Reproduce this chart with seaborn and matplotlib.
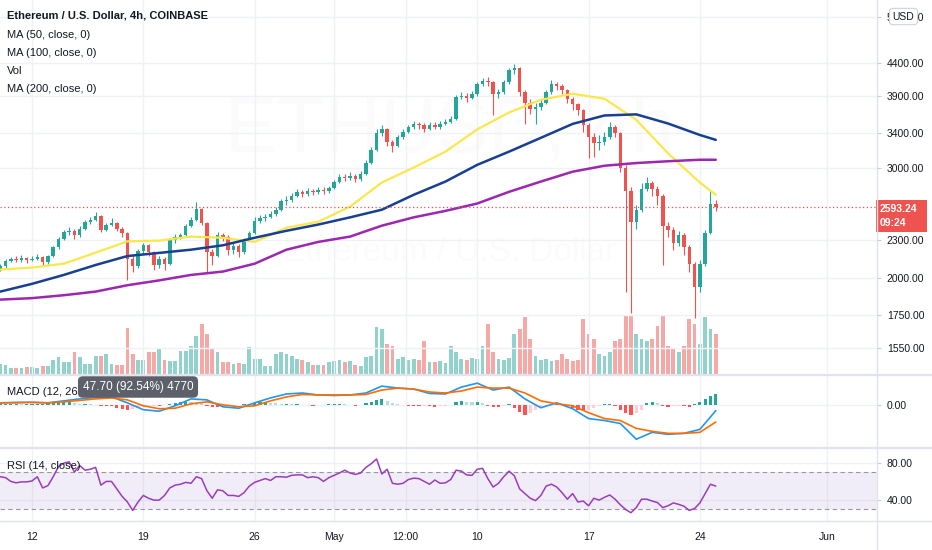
import numpy as np
import matplotlib
matplotlib.use("Agg")
import matplotlib.pyplot as plt
import seaborn as sns
from matplotlib.ticker import NullLocator
from matplotlib.patches import Rectangle
from matplotlib.lines import Line2D

sns.set_style("white")
plt.rcParams['font.family'] = ['Liberation Sans', 'DejaVu Sans']

# ---------------- data (8h candles starting Apr 10) ----------------
first_open = 2070
closes = [2090, 2130, 2150, 2140, 2155, 2140, 2150, 2160, 2120, 2170,
          2240, 2310, 2370, 2380, 2340, 2400, 2460, 2480, 2510, 2390,
          2430, 2450, 2400, 2360, 2150, 2090, 2210, 2260, 2200, 2100,
          2150, 2110, 2300, 2330, 2340, 2420, 2480, 2580, 2450, 2200,
          2170, 2340, 2330, 2220, 2250, 2200, 2300, 2360, 2470, 2490,
          2500, 2530, 2570, 2650, 2660, 2700, 2740, 2720, 2750, 2740,
          2760, 2750, 2780, 2850, 2900, 2890, 2910, 2880, 2930, 3050,
          3200, 3400, 3450, 3300, 3250, 3350, 3420, 3480, 3520, 3500,
          3460, 3500, 3480, 3520, 3550, 3580, 3880, 3900, 3870, 3920,
          4080, 4120, 4100, 3920, 3950, 4100, 4280, 4320, 3950, 3800,
          3720, 3750, 3800, 3950, 4080, 4050, 3980, 3850, 3780, 3700,
          3500, 3350, 3280, 3300, 3350, 3480, 3400, 3000, 2750, 2460,
          2570, 2770, 2840, 2770, 2700, 2425, 2390, 2275, 2340, 2245,
          2110, 1940, 2110, 2365, 2630, 2593.24]
highs = [2110, 2145, 2165, 2170, 2175, 2165, 2170, 2185, 2170, 2180,
         2255, 2330, 2390, 2410, 2395, 2420, 2475, 2500, 2545, 2520,
         2450, 2490, 2460, 2410, 2370, 2180, 2230, 2280, 2270, 2210,
         2170, 2160, 2320, 2350, 2360, 2440, 2500, 2640, 2590, 2460,
         2230, 2370, 2360, 2340, 2280, 2265, 2320, 2380, 2500, 2520,
         2530, 2560, 2600, 2670, 2700, 2730, 2770, 2760, 2780, 2770,
         2790, 2790, 2800, 2870, 2930, 2930, 2950, 2930, 2960, 3080,
         3230, 3460, 3500, 3470, 3320, 3380, 3450, 3510, 3560, 3550,
         3530, 3540, 3540, 3560, 3590, 3620, 3910, 3960, 3940, 3970,
         4110, 4160, 4180, 4120, 4000, 4130, 4320, 4380, 4340, 3980,
         3850, 3800, 3850, 3990, 4130, 4110, 4070, 4000, 3880, 3800,
         3720, 3530, 3400, 3380, 3420, 3540, 3500, 3420, 3030, 2790,
         2620, 2830, 2900, 2860, 2800, 2720, 2460, 2410, 2380, 2360,
         2260, 2120, 2140, 2390, 2750, 2660]
lows = [2055, 2080, 2120, 2125, 2120, 2115, 2130, 2140, 2090, 2110,
        2160, 2230, 2300, 2340, 2310, 2330, 2390, 2440, 2470, 2370,
        2380, 2420, 2380, 2330, 1990, 2050, 2080, 2190, 2170, 2060,
        2080, 2060, 2100, 2280, 2310, 2330, 2410, 2470, 2430, 2050,
        2100, 2160, 2290, 2180, 2190, 2160, 2190, 2290, 2350, 2450,
        2470, 2490, 2510, 2560, 2620, 2640, 2690, 2690, 2700, 2710,
        2720, 2720, 2730, 2770, 2840, 2860, 2870, 2850, 2860, 2920,
        3040, 3190, 3370, 3250, 3180, 3230, 3330, 3400, 3460, 3460,
        3420, 3440, 3450, 3460, 3500, 3530, 3570, 3850, 3820, 3850,
        3900, 4050, 4050, 3640, 3870, 3930, 4080, 4230, 3900, 3520,
        3650, 3520, 3700, 3780, 3930, 3990, 3930, 3800, 3700, 3640,
        3420, 3110, 3120, 3200, 3260, 3330, 3350, 2950, 1900, 1760,
        2400, 2550, 2750, 2700, 2620, 2100, 2330, 2220, 2250, 2180,
        2050, 1730, 1900, 2090, 2350, 2560]
volumes = [10, 9, 6, 6, 6, 7, 7, 6, 8, 8,
           14, 17, 12, 12, 22, 17, 10, 10, 18, 18,
           20, 10, 9, 9, 46, 20, 14, 14, 22, 22,
           26, 14, 13, 13, 23, 23, 28, 38, 50, 40,
           25, 22, 12, 12, 10, 11, 10, 27, 15, 15,
           8, 8, 20, 22, 20, 18, 15, 14, 12, 9,
           9, 9, 12, 13, 14, 12, 13, 9, 8, 17,
           18, 47, 45, 30, 28, 15, 17, 14, 15, 14,
           33, 12, 12, 13, 11, 28, 22, 15, 14, 16,
           15, 28, 50, 22, 15, 14, 16, 40, 45, 57,
           35, 18, 14, 15, 13, 14, 20, 15, 13, 14,
           55, 40, 35, 20, 18, 22, 33, 35, 58, 58,
           40, 35, 33, 35, 48, 58, 28, 25, 22, 28,
           55, 50, 30, 57, 45, 40]

ma_days = [0, 2, 4, 6, 8, 10, 12, 14, 16, 18, 20, 22, 24, 26, 28, 30, 32, 34, 36, 38, 40, 42, 44, 45]
ma50 = [2065, 2080, 2110, 2197, 2290, 2296, 2330, 2320, 2285, 2407, 2460, 2600,
        2840, 3000, 3180, 3450, 3670, 3845, 3930, 3860, 3573, 3160, 2840, 2715]
ma100 = [1905, 1960, 2025, 2100, 2170, 2195, 2221, 2257, 2320, 2380, 2435, 2500,
         2571, 2715, 2850, 3030, 3180, 3345, 3520, 3630, 3645, 3525, 3380, 3320]
ma200 = [1850, 1860, 1880, 1905, 1950, 1985, 2025, 2050, 2110, 2221, 2285, 2330,
         2425, 2500, 2560, 2630, 2745, 2850, 2955, 3020, 3050, 3070, 3087, 3087]

macd_days = list(range(46))
macd_line = [2, 2.5, 2.5, 2, 4, 6, 7.5, 8, 2, -5,
             -6.5, -1, 6, 5, -2, -3.5, 2, 7, 11, 12,
             10, 9.5, 10, 12, 19, 17, 16, 11.5, 11, 18,
             22, 15, 18, 6, -3, 2, -4, -14, -16, -19,
             -35, -28, -30, -29, -25, -6]
signal_line = [2, 2, 2.5, 2, 3, 4.5, 6, 7, 5, -1,
               -4, -3.5, 1, 3, 0, -2, -1, 4, 8, 10.5,
               10, 10, 10, 10.5, 15, 17, 16, 13, 12, 14,
               18, 17, 17, 12, 4, 1, -1, -8, -14, -16,
               -24, -27, -29, -29, -28, -17.5]
macd_hist = [1, 1, 1, 1, 0.5, 0.5, 1, 1, 1, 1.5,
             2, 3, 3, 3, 2, 1, 1, 0.5, -0.5, -1,
             -1, -1, -3, -4, -5, -4, -3, -2, -1.5, -1,
             -1, -0.5, 1, 2, 3, 3, 2.5, 2, 1.5, -1,
             -2, -2.5, -2, -1.5, -1, -0.5, 0.5, 1, 2, 2.5,
             2.5, 2, 1.5, 1, 1, 0.5, 0.5, -0.5, -0.5, -1,
             -0.5, -0.5, 0.5, 0.5, 1, 0.5, -0.5, -1, -0.5, 2,
             3, 5, 6, 4, 2, 0.5, -0.5, -1, -1, -1.5,
             -1, -1.5, -2, -1.5, -1, -0.5, 3, 4, 3, 2.5,
             3, 2, -1, -2, -2, -1, 0.5, -3, -7, -10,
             -8, -5, -2, -1, 1, 1, 0.5, -0.5, -3, -5,
             -6, -5, -3, -1, 0.5, 1, -1, -5, -8, -10,
             -8, -5, 2, 3, 2, -1, -2, -1.5, -1, -1,
             -2, 1, 3, 6, 9, 11]
rsi = [65, 64, 60, 58.5, 59.5, 59.5, 60.5, 65, 53, 55.5,
       65, 76, 79.5, 81, 70, 77, 72, 73, 75, 56,
       60, 60, 52, 44, 38, 29, 38, 45, 42, 40,
       40, 45, 53, 56, 57, 59, 58, 65, 63, 50,
       42, 51, 50, 45, 45, 44, 48, 55, 59, 61,
       63, 61, 65, 65, 64.5, 66.5, 67, 67, 64, 65,
       64, 60, 64, 66.5, 69, 72, 69, 67.5, 69, 75,
       79, 84, 68, 73, 58, 57, 58, 62, 63.5, 63,
       60, 57, 61.5, 58, 58.5, 62, 72, 71, 67, 66.5,
       73, 74, 63, 54, 58, 65, 71, 66, 52, 47,
       42, 39.5, 45, 55, 57, 54, 48, 41, 47, 38,
       39, 34, 42, 40, 43, 45.5, 41, 35, 30, 26.5,
       32, 41, 41, 39, 37.4, 32, 34, 37, 35.5, 33.5,
       29, 31, 37, 47, 57, 55]

price_ticks = [1550, 1750, 2000, 2300, 3000, 3400, 3900, 4400, 5200]
date_ticks = [2, 9, 16, 21, 25.5, 30, 37, 44, 52]
date_labels = ['12', '19', '26', 'May', '12:00', '10', '17', '24', 'Jun']
last_price = 2593.24

# ---------------- styling ----------------
UP, DOWN = '#26a69a', '#ef5350'
GRID = '#eff1f5'
TXT = '#131722'
W, H = 932, 550

def fx(p):
    return p / W

def fy(p):
    return 1 - p / H

fig = plt.figure(figsize=(9.32, 5.5), dpi=100)
ax = fig.add_axes([0, fy(374), fx(877), 374 / H])
axm = fig.add_axes([0, fy(447.5), fx(877), 72.5 / H], sharex=ax)
axr = fig.add_axes([0, fy(520.7), fx(877), 72.2 / H], sharex=ax)

n = len(closes)
t = np.arange(n) / 3.0
c = np.array(closes, float)
o = np.r_[first_open, c[:-1]]
hi = np.array(highs, float)
lo = np.array(lows, float)
up = c >= o
cols = np.where(up, UP, DOWN)

# volume on a twin axis behind the price
axv = ax.twinx()
axv.set_ylim(0, 374)
axv.bar(t, volumes, width=0.24, color=[(0.149, 0.651, 0.604, 0.5) if u else (0.937, 0.325, 0.314, 0.5) for u in up],
        linewidth=0)
axv.yaxis.set_visible(False)
for s in axv.spines.values():
    s.set_visible(False)
ax.set_zorder(2)
axv.set_zorder(1)
ax.patch.set_visible(False)

ax.set_yscale('log')
ax.set_ylim(1409, 5540)
ax.set_xlim(-0.013, 55.14)

# watermark
ax.text(fx(450), fy(132), 'ETHUSD, 4h', transform=fig.transFigure, ha='center', va='center',
        fontsize=56, color='#000000', alpha=0.014, zorder=0)
ax.text(fx(450), fy(252), 'Ethereum / U.S. Dollar', transform=fig.transFigure, ha='center', va='center',
        fontsize=24, color='#000000', alpha=0.014, zorder=0)

# candles
ax.vlines(t, lo, hi, colors=cols, linewidth=0.8, zorder=2)
body_lo = np.minimum(o, c)
body_h = np.maximum(np.abs(c - o), body_lo * 0.003)
ax.bar(t, body_h, bottom=body_lo, width=0.22, color=cols, linewidth=0, zorder=2)

# moving averages
sns.lineplot(x=ma_days, y=ma50, ax=ax, color='#fbe74a', linewidth=1.6, zorder=3)
sns.lineplot(x=ma_days, y=ma100, ax=ax, color='#173f92', linewidth=1.8, zorder=3)
sns.lineplot(x=ma_days, y=ma200, ax=ax, color='#9c27b0', linewidth=1.8, zorder=3)

ax.axhline(last_price, color=DOWN, linestyle=(0, (1, 2)), linewidth=0.9, zorder=4)

ax.set_yticks(price_ticks)
ax.set_yticklabels([f'{v:.2f}' for v in price_ticks])
ax.yaxis.set_minor_locator(NullLocator())
ax.set_xlabel('')
ax.set_ylabel('')

# MACD
hcols = []
for i, v in enumerate(macd_hist):
    prev = macd_hist[i - 1] if i > 0 else v
    if v >= 0:
        hcols.append('#26a69a' if v >= prev else '#b2dfdb')
    else:
        hcols.append('#ff5252' if v <= prev else '#ffcdd2')
axm.bar(t, macd_hist, width=0.2, color=hcols, linewidth=0, zorder=2)
sns.lineplot(x=macd_days, y=macd_line, ax=axm, color='#2196f3', linewidth=1.2, zorder=3)
sns.lineplot(x=macd_days, y=signal_line, ax=axm, color='#ff6d00', linewidth=1.2, zorder=3)
axm.set_ylim(-43.4, 30.3)
axm.set_yticks([0])
axm.set_yticklabels(['0.00'])
axm.set_xlabel('')
axm.set_ylabel('')

# RSI
axr.axhspan(30, 70, color='#7e57c2', alpha=0.1, linewidth=0, zorder=1)
axr.axhline(70, color='#9598a1', linestyle=(0, (4, 3)), linewidth=0.8, zorder=2)
axr.axhline(30, color='#9598a1', linestyle=(0, (4, 3)), linewidth=0.8, zorder=2)
sns.lineplot(x=t, y=rsi, ax=axr, color='#9c3cba', linewidth=1.1, zorder=3)
axr.set_ylim(18, 95.2)
axr.set_yticks([40, 80])
axr.set_yticklabels(['40.00', '80.00'])
axr.set_xlabel('')
axr.set_ylabel('')

for a in (ax, axm, axr):
    a.set_xticks(date_ticks)
    a.grid(True, color=GRID, linewidth=1)
    a.set_axisbelow(True)
    for s in a.spines.values():
        s.set_visible(False)
    a.yaxis.tick_right()
    a.tick_params(axis='y', which='both', right=True, left=False, labelright=True, labelleft=False,
                  length=3, width=0.8, color='#c9ccd4', labelsize=7.5, labelcolor=TXT, pad=4)
ax.tick_params(axis='x', bottom=False, labelbottom=False)
axm.tick_params(axis='x', bottom=False, labelbottom=False)
axr.set_xticklabels(date_labels)
axr.tick_params(axis='x', bottom=False, labelbottom=True, labelsize=7.5, labelcolor=TXT, pad=8, length=0)
axr.set_xlim(-0.013, 55.14)

# separators / frame lines
for yy in (374.5, 448):
    fig.add_artist(Line2D([0, 1], [fy(yy), fy(yy)], transform=fig.transFigure, color='#e0e3eb', linewidth=1.6))
fig.add_artist(Line2D([0, 1], [fy(521), fy(521)], transform=fig.transFigure, color='#e0e3eb', linewidth=1.0))
fig.add_artist(Line2D([fx(877), fx(877)], [0, 1], transform=fig.transFigure, color='#e0e3eb', linewidth=1.0))

# legend texts
fig.text(fx(7), fy(16), 'Ethereum / U.S. Dollar, 4h, COINBASE', fontsize=8, fontweight='bold',
         color=TXT, va='center')
for i, s in enumerate(['MA (50, close, 0)', 'MA (100, close, 0)', 'Vol', 'MA (200, close, 0)']):
    fig.text(fx(7), fy(35 + i * 18), s, fontsize=8, color=TXT, va='center')
fig.text(fx(7), fy(392), 'MACD (12, 26, close, 9)', fontsize=8, color=TXT, va='center')
fig.text(fx(7), fy(466), 'RSI (14, close)', fontsize=8, color=TXT, va='center')
fig.text(fx(138), fy(387), '47.70 (92.54%) 4770', fontsize=8.5, color='white', ha='center', va='center',
         bbox=dict(boxstyle='round,pad=0.4', fc='#5d606b', ec='none'))

# current price label
fig.add_artist(Rectangle((fx(876), fy(232)), 51 / W, 32 / H, transform=fig.transFigure,
                         facecolor=DOWN, edgecolor='none'))
fig.text(fx(880), fy(209), '2593.24', fontsize=7.5, fontweight='bold', color='white', va='center')
fig.text(fx(880), fy(223), '09:24', fontsize=7.5, fontweight='bold', color='white', va='center')

# USD button
fig.text(fx(903.5), fy(16.5), 'USD', fontsize=7.5, color=TXT, ha='center', va='center',
         bbox=dict(boxstyle='round,pad=0.3', fc='white', ec='#d1d4dc', lw=0.8))

fig.savefig('out.png', dpi=100, facecolor='white')
